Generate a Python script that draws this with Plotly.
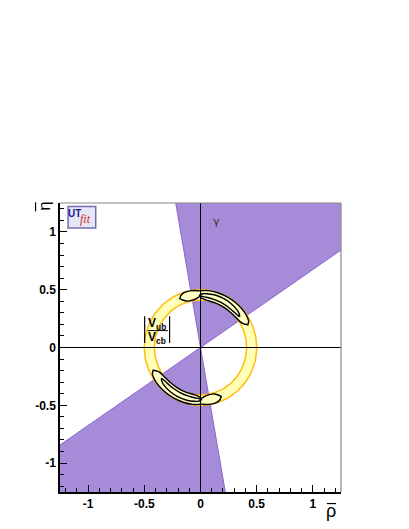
import numpy as np
import plotly.graph_objects as go

# gamma constraint: allowed angle range of the wedge (degrees)
gamma_lo = 34.0
gamma_hi = 100.0

# |Vub/Vcb| constraint: ring radii
ring_r_in = 0.41
ring_r_out = 0.50

# combined fit, upper solution (lower one is the point reflection)
# outer contour: angle (deg), inner radius, outer radius
outer_ang = [25, 28, 32, 38, 48, 60, 72, 82, 88, 91, 95, 101, 107, 111, 113.5]
outer_rin = [0.465, 0.435, 0.418, 0.41, 0.405, 0.405, 0.408, 0.412, 0.425, 0.44, 0.425, 0.415, 0.42, 0.44, 0.462]
outer_rout = [0.465, 0.485, 0.492, 0.496, 0.498, 0.498, 0.498, 0.497, 0.492, 0.49, 0.495, 0.499, 0.496, 0.484, 0.462]

# inner contour
inner_ang = [37.5, 40, 45, 55, 65, 75, 83, 88, 91.5]
inner_rin = [0.44, 0.432, 0.428, 0.428, 0.43, 0.434, 0.438, 0.442, 0.452]
inner_rout = [0.44, 0.45, 0.46, 0.468, 0.472, 0.472, 0.469, 0.465, 0.452]

# axis ticks
tick_vals = [-1, -0.5, 0, 0.5, 1]
tick_text = ["-1", "-0.5", "0", "0.5", "1"]

PURPLE = "#a68bd8"
PURPLE_EDGE = "#8a66c8"
RING_FILL = "#ffffb8"
RING_EDGE = "#ffbb10"
CONT_FILL = "#ffffc4"


def band(ang, r_in, r_out, offset=0.0):
    """closed polygon between two radius curves (polar -> cartesian)"""
    a = np.radians(np.asarray(ang, dtype=float) + offset)
    r_in = np.asarray(r_in)
    r_out = np.asarray(r_out)
    x = np.concatenate([r_out * np.cos(a), (r_in * np.cos(a))[::-1]])
    y = np.concatenate([r_out * np.sin(a), (r_in * np.sin(a))[::-1]])
    return np.append(x, x[0]), np.append(y, y[0])


fig = go.Figure()

# gamma wedge, both directions (clipped by the plot area)
for off in (0.0, 180.0):
    a = np.radians(np.linspace(gamma_lo, gamma_hi, 30) + off)
    R = 3.0
    x = np.concatenate([[0], R * np.cos(a), [0]])
    y = np.concatenate([[0], R * np.sin(a), [0]])
    fig.add_trace(go.Scatter(x=x, y=y, mode="lines", fill="toself",
                             fillcolor=PURPLE, line=dict(color=PURPLE_EDGE, width=1),
                             hoverinfo="skip"))

# |Vub/Vcb| ring
t = np.linspace(0, 360, 181)
rx, ry = band(t, np.full(t.size, ring_r_in), np.full(t.size, ring_r_out))
fig.add_trace(go.Scatter(x=rx, y=ry, mode="lines", fill="toself",
                         fillcolor=RING_FILL, line=dict(width=0), hoverinfo="skip"))
for r in (ring_r_in, ring_r_out):
    tr = np.radians(t)
    fig.add_trace(go.Scatter(x=r * np.cos(tr), y=r * np.sin(tr), mode="lines",
                             line=dict(color=RING_EDGE, width=1.5), hoverinfo="skip"))

# fit contours
for off in (0.0, 180.0):
    for ang, rin, rout in ((outer_ang, outer_rin, outer_rout), (inner_ang, inner_rin, inner_rout)):
        cx, cy = band(ang, rin, rout, off)
        fig.add_trace(go.Scatter(x=cx, y=cy, mode="lines", fill="toself",
                                 fillcolor=CONT_FILL,
                                 line=dict(color="black", width=1.4, shape="spline", smoothing=0.6),
                                 hoverinfo="skip"))

shapes = [
    # zero lines
    dict(type="line", xref="x", yref="y", x0=0, x1=0, y0=-1.25, y1=1.25,
         line=dict(color="black", width=1), layer="above"),
    dict(type="line", xref="x", yref="y", x0=-1.25, x1=1.25, y0=0, y1=0,
         line=dict(color="black", width=1), layer="above"),
    # gray top / right frame
    dict(type="line", xref="paper", yref="paper", x0=0, x1=1, y0=1, y1=1,
         line=dict(color="#888888", width=1.2), layer="above"),
    dict(type="line", xref="paper", yref="paper", x0=1, x1=1, y0=0, y1=1,
         line=dict(color="#888888", width=1.2), layer="above"),
    # UTfit logo box
    dict(type="rect", xref="x", yref="y", x0=-1.178, x1=-0.932, y0=1.033, y1=1.22,
         fillcolor="#e6e6f6", line=dict(color="#7070b0", width=1.5), layer="above"),
    # |Vub/Vcb| bars and fraction line
    dict(type="line", xref="x", yref="y", x0=-0.497, x1=-0.497, y0=0.04, y1=0.27,
         line=dict(color="black", width=1.2), layer="above"),
    dict(type="line", xref="x", yref="y", x0=-0.275, x1=-0.275, y0=0.04, y1=0.27,
         line=dict(color="black", width=1.2), layer="above"),
    dict(type="line", xref="x", yref="y", x0=-0.47, x1=-0.29, y0=0.146, y1=0.146,
         line=dict(color="black", width=1), layer="above"),
    # overline bars of the axis titles
    dict(type="line", xref="paper", yref="paper", x0=0.950, x1=0.982, y0=-0.04, y1=-0.04,
         line=dict(color="black", width=1.2)),
    dict(type="line", xref="paper", yref="paper", x0=-0.087, x1=-0.087, y0=0.971, y1=1.002,
         line=dict(color="black", width=1.2)),
]

annotations = [
    dict(x=0.14, y=1.09, xref="x", yref="y", text="γ",
         font=dict(size=11, color="#333333", family="DejaVu Sans")),
    dict(x=-1.122, y=1.157, xref="x", yref="y", text="<b>UT</b>",
         font=dict(size=10, color="#20208a", family="Liberation Sans")),
    dict(x=-1.019, y=1.115, xref="x", yref="y", text="<i>fit</i>",
         font=dict(size=12, color="#d02828", family="Liberation Serif")),
    dict(x=-0.384, y=0.205, xref="x", yref="y", text="<b>V<sub>ub</sub></b>",
         font=dict(size=12, color="black", family="Liberation Sans")),
    dict(x=-0.384, y=0.084, xref="x", yref="y", text="<b>V<sub>cb</sub></b>",
         font=dict(size=12, color="black", family="Liberation Sans")),
    dict(x=0.964, y=-0.066, xref="paper", yref="paper", text="ρ",
         font=dict(size=18, color="black", family="Liberation Sans")),
    dict(x=-0.053, y=0.987, xref="paper", yref="paper", text="η", textangle=-90,
         font=dict(size=17, color="black", family="Liberation Sans")),
]
for ann in annotations:
    ann.update(showarrow=False, xanchor="center", yanchor="middle")

axis_common = dict(
    range=[-1.25, 1.25], tickvals=tick_vals, ticktext=tick_text,
    ticks="inside", ticklen=7, tickwidth=1, tickcolor="black",
    minor=dict(dtick=0.1, tick0=0, ticks="inside", ticklen=4, tickcolor="black"),
    showline=True, linecolor="black", linewidth=1.5,
    showgrid=False, zeroline=False, layer="above traces",
    tickfont=dict(family="Liberation Sans", size=12, color="black", weight="bold"),
    fixedrange=True,
)

# the page body adds an 8px offset, so the figure is 8px smaller than the window
fig.update_layout(
    width=401, height=521,
    margin=dict(l=52, r=68, t=195, b=37),
    plot_bgcolor="white", paper_bgcolor="white",
    showlegend=False,
    xaxis=axis_common,
    yaxis=axis_common,
    shapes=shapes,
    annotations=annotations,
)

fig.write_html("out.html")
